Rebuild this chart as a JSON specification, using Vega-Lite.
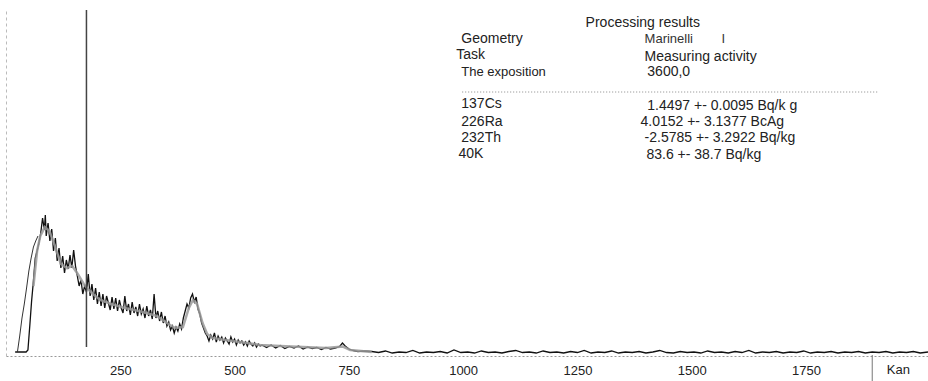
{
  "$schema": "https://vega.github.io/schema/vega-lite/v6.json",
  "width": 922,
  "height": 346,
  "autosize": "none",
  "padding": {"left": 6, "top": 10, "right": 0, "bottom": 25},
  "background": "#ffffff",
  "config": {"view": {"stroke": null}, "font": "Liberation Sans"},
  "datasets": {
    "raw": [
      {"c":20,"r":40},{"c":44,"r":40},{"c":48,"r":60},{"c":52,"r":300},{"c":56,"r":550},{"c":60,"r":750},{"c":64,"r":980},{"c":68,"r":1050},{"c":72,"r":1130},{"c":76,"r":1230},{"c":80,"r":1380},{"c":84,"r":1260},{"c":86,"r":1410},{"c":88,"r":1200},{"c":92,"r":1330},{"c":96,"r":1150},{"c":100,"r":1270},{"c":104,"r":1050},{"c":108,"r":1180},{"c":112,"r":950},{"c":116,"r":1080},{"c":120,"r":880},{"c":124,"r":1000},{"c":128,"r":830},{"c":132,"r":960},{"c":136,"r":870},{"c":140,"r":1010},{"c":144,"r":880},{"c":148,"r":1060},{"c":152,"r":900},{"c":156,"r":800},{"c":160,"r":700},{"c":164,"r":760},{"c":168,"r":620},{"c":172,"r":700},{"c":176,"r":640},{"c":180,"r":820},{"c":184,"r":600},{"c":188,"r":720},{"c":192,"r":560},{"c":196,"r":680},{"c":200,"r":520},{"c":204,"r":640},{"c":208,"r":500},{"c":212,"r":620},{"c":216,"r":480},{"c":220,"r":600},{"c":224,"r":530},{"c":228,"r":460},{"c":232,"r":590},{"c":236,"r":470},{"c":240,"r":580},{"c":244,"r":450},{"c":248,"r":560},{"c":252,"r":480},{"c":256,"r":430},{"c":260,"r":600},{"c":264,"r":450},{"c":268,"r":520},{"c":272,"r":410},{"c":276,"r":540},{"c":280,"r":430},{"c":284,"r":490},{"c":288,"r":400},{"c":292,"r":520},{"c":296,"r":420},{"c":300,"r":470},{"c":304,"r":380},{"c":308,"r":500},{"c":312,"r":400},{"c":316,"r":460},{"c":320,"r":370},{"c":324,"r":620},{"c":328,"r":380},{"c":332,"r":450},{"c":336,"r":350},{"c":340,"r":440},{"c":344,"r":330},{"c":348,"r":400},{"c":352,"r":300},{"c":356,"r":340},{"c":360,"r":260},{"c":364,"r":300},{"c":368,"r":230},{"c":372,"r":290},{"c":376,"r":250},{"c":380,"r":320},{"c":384,"r":270},{"c":388,"r":380},{"c":392,"r":450},{"c":396,"r":520},{"c":400,"r":480},{"c":404,"r":580},{"c":408,"r":620},{"c":412,"r":540},{"c":416,"r":590},{"c":420,"r":470},{"c":424,"r":420},{"c":428,"r":330},{"c":432,"r":280},{"c":436,"r":230},{"c":440,"r":200},{"c":444,"r":150},{"c":448,"r":210},{"c":452,"r":170},{"c":456,"r":230},{"c":460,"r":140},{"c":464,"r":200},{"c":468,"r":160},{"c":472,"r":190},{"c":476,"r":130},{"c":480,"r":180},{"c":484,"r":150},{"c":488,"r":120},{"c":492,"r":190},{"c":496,"r":140},{"c":500,"r":170},{"c":504,"r":110},{"c":508,"r":160},{"c":512,"r":130},{"c":516,"r":150},{"c":520,"r":110},{"c":524,"r":140},{"c":528,"r":100},{"c":532,"r":150},{"c":536,"r":120},{"c":540,"r":100},{"c":544,"r":130},{"c":548,"r":90},{"c":552,"r":120},{"c":556,"r":100},{"c":560,"r":110},{"c":570,"r":85},{"c":580,"r":110},{"c":590,"r":80},{"c":600,"r":105},{"c":610,"r":75},{"c":620,"r":95},{"c":630,"r":80},{"c":640,"r":100},{"c":650,"r":70},{"c":660,"r":90},{"c":670,"r":75},{"c":680,"r":85},{"c":690,"r":65},{"c":700,"r":85},{"c":710,"r":70},{"c":720,"r":80},{"c":730,"r":95},{"c":736,"r":130},{"c":742,"r":100},{"c":750,"r":70},{"c":760,"r":55},{"c":770,"r":45},{"c":780,"r":50},
      {"c":800,"r":45},{"c":815,"r":35},{"c":830,"r":50},{"c":845,"r":30},{"c":860,"r":40},{"c":875,"r":35},{"c":890,"r":55},{"c":905,"r":30},{"c":920,"r":40},{"c":935,"r":35},{"c":950,"r":45},{"c":965,"r":30},{"c":980,"r":60},{"c":995,"r":35},{"c":1010,"r":40},{"c":1025,"r":30},{"c":1040,"r":50},{"c":1055,"r":35},{"c":1070,"r":40},{"c":1085,"r":30},{"c":1100,"r":45},{"c":1115,"r":55},{"c":1130,"r":35},{"c":1145,"r":40},{"c":1160,"r":30},{"c":1175,"r":50},{"c":1190,"r":35},{"c":1205,"r":40},{"c":1220,"r":30},{"c":1235,"r":45},{"c":1250,"r":35},{"c":1265,"r":55},{"c":1280,"r":30},{"c":1295,"r":40},{"c":1310,"r":35},{"c":1325,"r":50},{"c":1340,"r":30},{"c":1355,"r":40},{"c":1370,"r":35},{"c":1385,"r":45},{"c":1400,"r":30},{"c":1415,"r":40},{"c":1430,"r":55},{"c":1445,"r":35},{"c":1460,"r":30},{"c":1475,"r":45},{"c":1490,"r":35},{"c":1505,"r":40},{"c":1520,"r":30},{"c":1535,"r":50},{"c":1550,"r":35},{"c":1565,"r":40},{"c":1580,"r":30},{"c":1595,"r":45},{"c":1610,"r":35},{"c":1625,"r":55},{"c":1640,"r":30},{"c":1655,"r":40},{"c":1670,"r":35},{"c":1685,"r":45},{"c":1700,"r":30},{"c":1715,"r":40},{"c":1730,"r":35},{"c":1745,"r":50},{"c":1760,"r":30},{"c":1775,"r":40},{"c":1790,"r":35},{"c":1805,"r":45},{"c":1820,"r":30},{"c":1835,"r":40},{"c":1850,"r":35},{"c":1865,"r":45},{"c":1880,"r":30},{"c":1895,"r":40},{"c":1910,"r":35},{"c":1925,"r":45},{"c":1940,"r":30},{"c":1955,"r":40},{"c":1970,"r":35},{"c":1985,"r":45},{"c":2000,"r":30},{"c":2017,"r":40}
    ],
    "smooth": [
      {"c":60,"s":700},{"c":68,"s":1050},{"c":75,"s":1200},{"c":85,"s":1290},{"c":95,"s":1250},{"c":107,"s":1100},{"c":120,"s":920},{"c":133,"s":880},{"c":145,"s":900},{"c":157,"s":820},{"c":170,"s":720},{"c":177,"s":680},{"c":190,"s":620},{"c":206,"s":560},{"c":230,"s":520},{"c":260,"s":480},{"c":300,"s":440},{"c":330,"s":400},{"c":352,"s":330},{"c":370,"s":280},{"c":387,"s":290},{"c":400,"s":480},{"c":409,"s":560},{"c":418,"s":520},{"c":430,"s":330},{"c":440,"s":220},{"c":453,"s":180},{"c":480,"s":160},{"c":527,"s":130},{"c":556,"s":110},{"c":600,"s":100},{"c":650,"s":90},{"c":700,"s":80},{"c":737,"s":95},{"c":753,"s":60},{"c":800,"s":40}
    ],
    "envelope": [
      {"c":25,"e":40},{"c":30,"e":200},{"c":35,"e":380},{"c":40,"e":520},{"c":45,"e":680},{"c":50,"e":850},{"c":55,"e":980},{"c":60,"e":1090},{"c":65,"e":1150},{"c":70,"e":1200}
    ],
    "marker": [{"c":176,"v1":90,"v2":3460}],
    "sep": [{"c":1895,"v1":10,"v2":-250}],
    "dots": [{"c1":998,"c2":1906,"v":2640}],
    "kan": [{"c":1952,"v":-140,"t":"Kan"}],
    "txt14": [
      {"c":1268,"v":3330,"t":"Processing results"},
      {"c":996,"v":3170,"t":"Geometry"},
      {"c":985,"v":3010,"t":"Task"},
      {"c":1397,"v":2990,"t":"Measuring activity"},
      {"c":1403,"v":2840,"t":"3600,0"},
      {"c":996,"v":2520,"t":"137Cs"},
      {"c":1403,"v":2500,"t":"1.4497 +- 0.0095 Bq/k g"},
      {"c":996,"v":2340,"t":"226Ra"},
      {"c":1388,"v":2340,"t":"4.0152 +- 3.1377 BcAg"},
      {"c":996,"v":2180,"t":"232Th"},
      {"c":1397,"v":2180,"t":"-2.5785 +- 3.2922 Bq/kg"},
      {"c":990,"v":2020,"t":"40K"},
      {"c":1401,"v":2010,"t":"83.6 +- 38.7 Bq/kg"}
    ],
    "txt13": [
      {"c":996,"v":2840,"t":"The exposition"}
    ],
    "txt12": [
      {"c":1397,"v":3170,"t":"Marinelli"},
      {"c":1565,"v":3170,"t":"I"}
    ]
  },
  "layer": [
    {
      "data": {"name": "raw"},
      "mark": {"type": "line", "color": "#111111", "strokeWidth": 1.3, "interpolate": "linear"},
      "encoding": {
        "x": {"field": "c", "type": "quantitative", "scale": {"domain": [0, 2017], "nice": false, "zero": false},
              "axis": {"values": [250, 500, 750, 1000, 1250, 1500, 1750], "format": "d", "grid": false, "ticks": false, "title": null,
                       "domainColor": "#999999", "domainDash": [2, 2], "labelFont": "Liberation Sans", "labelFontSize": 13,
                       "labelColor": "#222222", "labelPadding": 8, "labelFlush": false}},
        "y": {"field": "r", "type": "quantitative", "scale": {"domain": [0, 3460], "nice": false, "zero": false},
              "axis": {"labels": false, "ticks": false, "grid": false, "title": null, "domainColor": "#bbbbbb", "domainDash": [3, 3]}}
      }
    },
    {
      "data": {"name": "envelope"},
      "mark": {"type": "line", "color": "#333333", "strokeWidth": 1},
      "encoding": {"x": {"field": "c", "type": "quantitative"}, "y": {"field": "e", "type": "quantitative"}}
    },
    {
      "data": {"name": "smooth"},
      "mark": {"type": "line", "color": "#9a9a9a", "strokeWidth": 2.5, "opacity": 0.85},
      "encoding": {"x": {"field": "c", "type": "quantitative"}, "y": {"field": "s", "type": "quantitative"}}
    },
    {
      "data": {"name": "marker"},
      "mark": {"type": "rule", "color": "#444444", "strokeWidth": 1.5},
      "encoding": {"x": {"field": "c", "type": "quantitative"}, "y": {"field": "v1", "type": "quantitative"}, "y2": {"field": "v2"}}
    },
    {
      "data": {"name": "sep"},
      "mark": {"type": "rule", "color": "#777777", "strokeWidth": 1},
      "encoding": {"x": {"field": "c", "type": "quantitative"}, "y": {"field": "v1", "type": "quantitative"}, "y2": {"field": "v2"}}
    },
    {
      "data": {"name": "dots"},
      "mark": {"type": "rule", "color": "#888888", "strokeWidth": 1, "strokeDash": [1, 2]},
      "encoding": {"x": {"field": "c1", "type": "quantitative"}, "x2": {"field": "c2"}, "y": {"field": "v", "type": "quantitative"}}
    },
    {
      "data": {"name": "kan"},
      "mark": {"type": "text", "align": "center", "baseline": "middle", "font": "Liberation Sans", "fontSize": 13, "color": "#222222"},
      "encoding": {"x": {"field": "c", "type": "quantitative"}, "y": {"field": "v", "type": "quantitative"}, "text": {"field": "t"}}
    },
    {
      "data": {"name": "txt14"},
      "mark": {"type": "text", "align": "left", "baseline": "middle", "font": "Liberation Sans", "fontSize": 14, "color": "#222222"},
      "encoding": {"x": {"field": "c", "type": "quantitative"}, "y": {"field": "v", "type": "quantitative"}, "text": {"field": "t"}}
    },
    {
      "data": {"name": "txt13"},
      "mark": {"type": "text", "align": "left", "baseline": "middle", "font": "Liberation Sans", "fontSize": 13, "color": "#222222"},
      "encoding": {"x": {"field": "c", "type": "quantitative"}, "y": {"field": "v", "type": "quantitative"}, "text": {"field": "t"}}
    },
    {
      "data": {"name": "txt12"},
      "mark": {"type": "text", "align": "left", "baseline": "middle", "font": "Liberation Sans", "fontSize": 13, "color": "#333333"},
      "encoding": {"x": {"field": "c", "type": "quantitative"}, "y": {"field": "v", "type": "quantitative"}, "text": {"field": "t"}}
    }
  ]
}
